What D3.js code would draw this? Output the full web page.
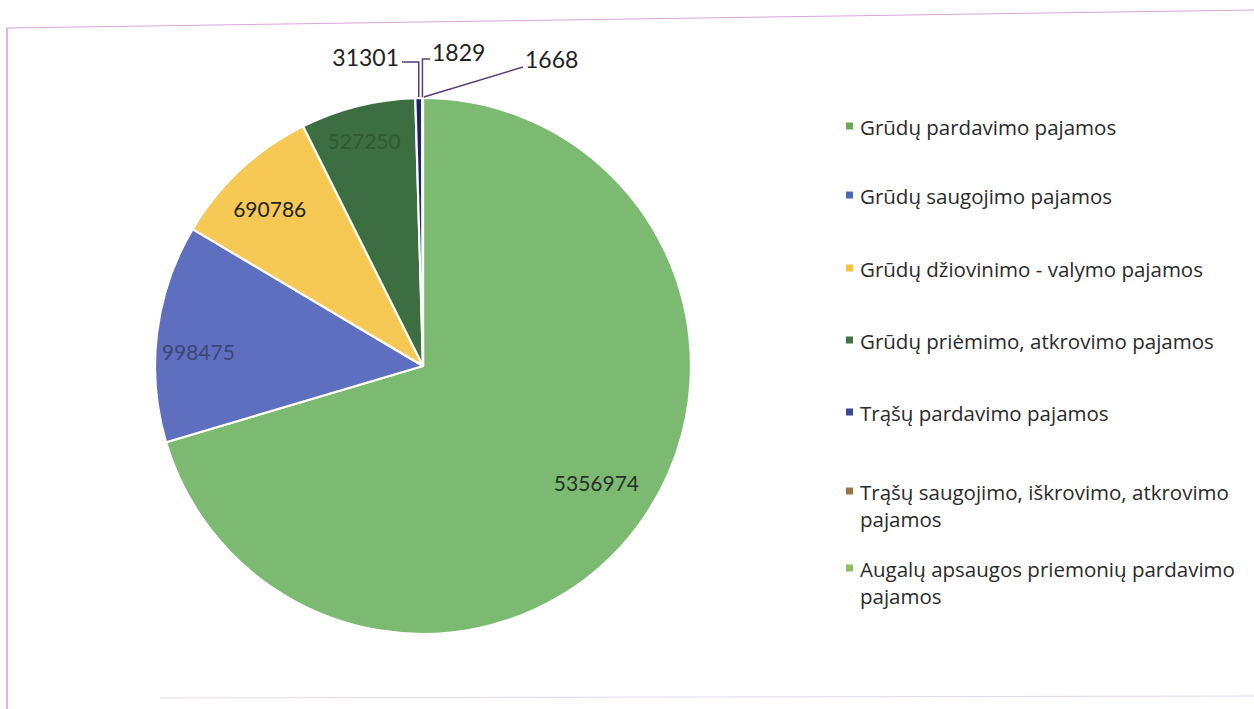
<!DOCTYPE html>
<html><head><meta charset="utf-8">
<script src="https://cdn.jsdelivr.net/npm/d3@7"></script>
<style>body{margin:0;background:#fff}svg{display:block}</style>
</head><body>
<svg id="c" width="1254" height="709"></svg>
<script>
const categories = [
  "Grūdų pardavimo pajamos",
  "Grūdų saugojimo pajamos",
  "Grūdų džiovinimo - valymo pajamos",
  "Grūdų priėmimo, atkrovimo pajamos",
  "Trąšų pardavimo pajamos",
  "Trąšų saugojimo, iškrovimo, atkrovimo pajamos",
  "Augalų apsaugos priemonių pardavimo pajamos"
];
const values = [5356974, 998475, 690786, 527250, 31301, 1829, 1668];
const sliceColors = ["#7cba71", "#5f6fbf", "#f6c955", "#3d6e42", "#1f2270", "#8a6a3c", "#8cc56c"];
const legendColors = ["#6aaa55", "#4a68b8", "#f2c43a", "#3f7448", "#3a4898", "#9a7244", "#8cc060"];
const labelColors = ["#2a2f2a", "#3e4676", "#222", "#2f5a34", "#222", "#222", "#222"];
const legendLines = [
  ["Grūdų pardavimo pajamos"],
  ["Grūdų saugojimo pajamos"],
  ["Grūdų džiovinimo - valymo pajamos"],
  ["Grūdų priėmimo, atkrovimo pajamos"],
  ["Trąšų pardavimo pajamos"],
  ["Trąšų saugojimo, iškrovimo, atkrovimo", "pajamos"],
  ["Augalų apsaugos priemonių pardavimo", "pajamos"]
];

const svg = d3.select("#c");
const font = "Lato, 'Open Sans', sans-serif";
const legendFont = "'Open Sans', Lato, sans-serif";

// frame
svg.append("line").attr("x1", 7).attr("y1", 28).attr("x2", 1254).attr("y2", 10)
  .attr("stroke", "#d9a6dc").attr("stroke-width", 1);
svg.append("line").attr("x1", 7).attr("y1", 28).attr("x2", 7).attr("y2", 709)
  .attr("stroke", "#d99ad9").attr("stroke-width", 1.5);
svg.append("line").attr("x1", 160).attr("y1", 698).attr("x2", 1254).attr("y2", 696)
  .attr("stroke", "#e2d6ec").attr("stroke-width", 1);

const cx = 423, cy = 366, r = 268;
const g = svg.append("g").attr("transform", `translate(${cx},${cy})`);
const pie = d3.pie().sort(null).value(d => d);
const arcs = pie(values);
const arc = d3.arc().innerRadius(0).outerRadius(r);

g.selectAll("path").data(arcs).join("path")
  .attr("d", arc)
  .attr("fill", (d, i) => sliceColors[i])
  .attr("stroke", "#fff").attr("stroke-width", 2.2).attr("stroke-linejoin", "round");

// inner labels: radial fraction and angular shift (deg) from slice middle
const innerPos = [
  {i: 0, rr: 0.78, dA: -2.8},
  {i: 1, rr: 0.84, dA: -3.5},
  {i: 2, rr: 0.82, dA: -1.3},
  {i: 3, rr: 0.87, dA: -0.5}
];
innerPos.forEach(p => {
  const a = arcs[p.i];
  const m = (a.startAngle + a.endAngle) / 2 + p.dA * Math.PI / 180;
  const x = r * p.rr * Math.sin(m), y = -r * p.rr * Math.cos(m);
  g.append("text").attr("x", x).attr("y", y)
    .attr("text-anchor", "middle").attr("dominant-baseline", "central")
    .attr("font-family", font).attr("font-size", 21)
    .attr("fill", labelColors[p.i]).text(values[p.i]);
});

// outer labels with leader lines
const fmt = d3.format("d");
function edgePoint(a, extra) {
  const m = (a.startAngle + a.endAngle) / 2;
  return [(r + extra) * Math.sin(m), -(r + extra) * Math.cos(m)];
}
const outer = [
  {i: 4, lx: -24, ly: -309, anchor: "end", path: (p) => [[p[0], p[1]], [p[0], -304], [-21, -304]]},
  {i: 5, lx: 9, ly: -314, anchor: "start", path: (p) => [[p[0], p[1]], [p[0], -307], [7, -307]]},
  {i: 6, lx: 102, ly: -307, anchor: "start", path: (p) => [[p[0] + 1, p[1]], [100, -299]]}
];
outer.forEach(o => {
  const p = edgePoint(arcs[o.i], 1);
  g.append("path").attr("d", d3.line()(o.path(p)))
    .attr("fill", "none").attr("stroke", "#563d78").attr("stroke-width", 1.5);
  g.append("text").attr("x", o.lx).attr("y", o.ly)
    .attr("text-anchor", o.anchor).attr("dominant-baseline", "central")
    .attr("font-family", font).attr("font-size", 23).attr("fill", "#222")
    .text(fmt(values[o.i]));
});

// legend
const legendY = [126, 195, 268, 340, 412, 491, 568];
const lg = svg.append("g");
categories.forEach((c, i) => {
  const y = legendY[i];
  lg.append("rect").attr("x", 846).attr("y", y - 3.5).attr("width", 7).attr("height", 7)
    .attr("fill", legendColors[i]);
  legendLines[i].forEach((t, j) => {
    lg.append("text").attr("x", 860).attr("y", y + 1 + j * 27)
      .attr("dominant-baseline", "central")
      .attr("font-family", legendFont).attr("font-size", 20.5).attr("fill", "#2a2a2a")
      .text(t);
  });
});
</script>
</body></html>
